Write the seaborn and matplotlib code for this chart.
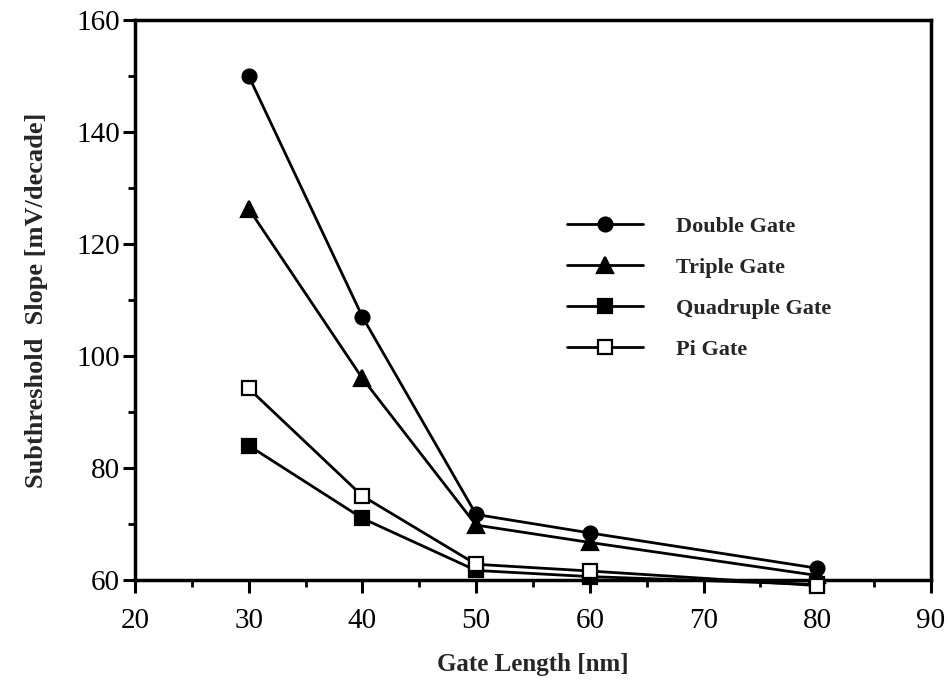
import matplotlib
matplotlib.use("Agg")
import matplotlib.pyplot as plt
from matplotlib.lines import Line2D
from matplotlib.ticker import MultipleLocator
import seaborn as sns
import pandas as pd

gate_length = [30, 40, 50, 60, 80]
double_gate = [150, 107, 71.7, 68.4, 62.1]
triple_gate = [126.3, 96, 69.8, 66.7, 60.8]
quadruple_gate = [84, 71, 61.7, 60.6, 59.2]
pi_gate = [94.2, 75, 62.8, 61.6, 59]

series_names = ["Double Gate", "Triple Gate", "Quadruple Gate", "Pi Gate"]
series_values = [double_gate, triple_gate, quadruple_gate, pi_gate]
series_markers = ["o", "^", "s", "s"]
series_faces = ["black", "black", "black", "white"]

sns.set_theme(style="white")
plt.rcParams["font.family"] = ["Liberation Serif", "DejaVu Serif"]

fig = plt.figure(figsize=(9.48, 6.82), dpi=100)
ax = fig.add_axes([0.1424, 0.1496, 0.8396, 0.8211])

handles = []
for name, vals, mk, fc in zip(series_names, series_values, series_markers, series_faces):
    df = pd.DataFrame({"Gate Length": gate_length, "Slope": vals})
    ms = 10 if mk != "^" else 11
    sns.lineplot(data=df, x="Gate Length", y="Slope", ax=ax, color="black",
                 linewidth=2.0, marker=mk, markersize=ms,
                 markerfacecolor=fc, markeredgecolor="black", markeredgewidth=1.6,
                 clip_on=False, zorder=3)
    handles.append(Line2D([], [], color="black", linewidth=2.0, marker=mk,
                          markersize=ms, markerfacecolor=fc,
                          markeredgecolor="black", markeredgewidth=1.6, label=name))

ax.set_xlim(20, 90)
ax.set_ylim(60, 160)
ax.xaxis.set_major_locator(MultipleLocator(10))
ax.xaxis.set_minor_locator(MultipleLocator(5))
ax.yaxis.set_major_locator(MultipleLocator(20))
ax.yaxis.set_minor_locator(MultipleLocator(10))

for sp in ax.spines.values():
    sp.set_visible(True)
    sp.set_color("black")
    sp.set_linewidth(2.5)

ax.tick_params(axis="both", which="major", direction="out", length=9, width=2.2,
               labelsize=21, color="black", labelcolor="black",
               bottom=True, left=True, top=False, right=False)
ax.tick_params(axis="x", which="major", pad=11)
ax.tick_params(axis="y", which="major", pad=2)
ax.tick_params(axis="both", which="minor", direction="out", length=5, width=2.0,
               color="black", bottom=True, left=True, top=False, right=False)

ax.set_xlabel("Gate Length [nm]", fontsize=18, fontweight="bold", labelpad=14)
ax.set_ylabel("Subthreshold  Slope [mV/decade]", fontsize=19, fontweight="bold", labelpad=20)

ax.legend(handles=handles, loc="upper left", bbox_to_anchor=(0.543, 0.65),
          frameon=False, prop={"weight": "bold", "size": 16},
          handlelength=3.4, handletextpad=1.5, labelspacing=0.92,
          borderpad=0, borderaxespad=0)

fig.savefig("out.png", dpi=100)
